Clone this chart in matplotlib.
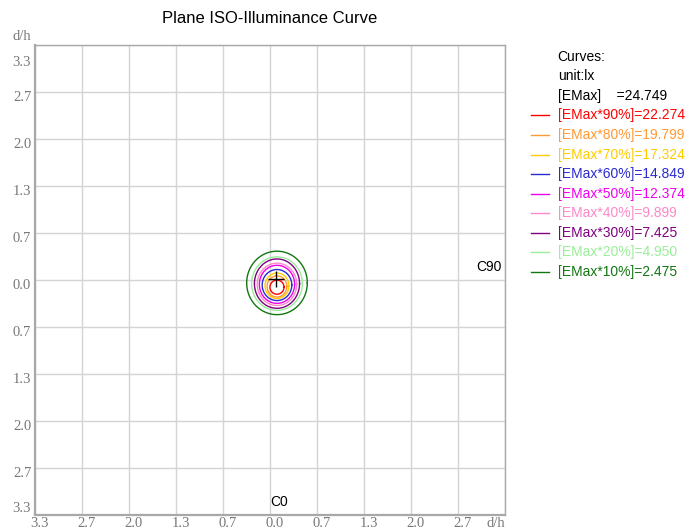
import numpy as np
import matplotlib
matplotlib.use("Agg")
import matplotlib.pyplot as plt
import matplotlib.transforms as mtransforms

# tick values (d/h), grid every 2/3
tick_vals = [-3.333, -2.667, -2.0, -1.333, -0.667, 0.0, 0.667, 1.333, 2.0, 2.667, 3.333]
tick_text = ["3.3", "2.7", "2.0", "1.3", "0.7", "0.0", "0.7", "1.3", "2.0", "2.7", "3.3"]

emax = 24.749
pcts = [90, 80, 70, 60, 50, 40, 30, 20, 10]
level_vals = [22.274, 19.799, 17.324, 14.849, 12.374, 9.899, 7.425, 4.950, 2.475]
level_colors = ["#ff0000", "#ff9933", "#ffcc00", "#2a2ad0", "#ee00ee",
                "#ff88c8", "#800080", "#99ee99", "#117711"]
# iso-lux curve sizes (d/h)
radius_x = [0.10, 0.14, 0.17, 0.21, 0.25, 0.28, 0.32, 0.36, 0.43]
radius_y = [0.10, 0.15, 0.18, 0.22, 0.27, 0.30, 0.35, 0.38, 0.45]
center_x = [0.10, 0.10, 0.10, 0.10, 0.10, 0.10, 0.10, 0.10, 0.10]
center_y = [-0.10, -0.09, -0.08, -0.07, -0.06, -0.06, -0.05, -0.05, -0.04]
lamp_pos = (0.08, 0.02)

fig = plt.figure(figsize=(6.86, 5.31), dpi=100)
ax = fig.add_axes([0.051, 0.030, 0.685, 0.885])
lim = 3.333
ax.set_xlim(-lim, lim)
ax.set_ylim(-lim, lim)
ax.set_xticks(tick_vals)
ax.set_yticks(tick_vals)
ax.grid(True, color="#d4d4d4", lw=1.0)
ax.tick_params(length=0, labelleft=False, labelbottom=False)
for s in ax.spines.values():
    s.set_color("#a8a8a8")
    s.set_linewidth(1.0)
ax.spines["left"].set_linewidth(1.6)
ax.spines["bottom"].set_linewidth(1.6)

tfont = dict(family="Liberation Serif", size=10.5, color="#777777")
bx = mtransforms.blended_transform_factory(ax.transData, ax.transAxes)
by = mtransforms.blended_transform_factory(ax.transAxes, ax.transData)
for v, t in zip(tick_vals[:-1], tick_text[:-1]):
    ax.text(v + 0.07, -0.018, t, transform=bx, ha="center", va="center", **tfont)
for v, t in zip(tick_vals, tick_text):
    yy = min(max(v - 0.07, -lim + 0.1), lim - 0.24)
    ax.text(-0.008, yy, t, transform=by, ha="right", va="center", **tfont)
ax.text(-0.047, 1.005, "d/h", transform=ax.transAxes, ha="left", va="bottom", **tfont)
ax.text(0.98, -0.018, "d/h", transform=ax.transAxes, ha="center", va="center", **tfont)

lfont = dict(family="Liberation Sans", size=10)
ax.text(0.0, -lim + 0.08, "C0", ha="left", va="bottom", **lfont)
ax.text(lim - 0.04, 0.08, "C90", ha="right", va="bottom", **lfont)

th = np.linspace(0, 2 * np.pi, 120)
for i in range(len(pcts))[::-1]:
    ax.plot(center_x[i] + radius_x[i] * np.cos(th), center_y[i] + radius_y[i] * np.sin(th),
            color=level_colors[i], lw=1.0)
ax.plot(*lamp_pos, marker="+", color="black", ms=12, mew=1.0)

fig.text(0.393, 0.966, "Plane ISO-Illuminance Curve", ha="center", va="center",
         family="Liberation Sans", size=12)

x0, y0, dy = 0.813, 0.893, 0.0368
fig.text(x0, y0, "Curves:", va="center", **lfont)
fig.text(x0, y0 - dy, "unit:lx", va="center", **lfont)
fig.text(x0, y0 - 2 * dy, "[EMax]    =%.3f" % emax, va="center", **lfont)
for i, (p, v, c) in enumerate(zip(pcts, level_vals, level_colors)):
    yy = y0 - (3 + i) * dy
    fig.add_artist(plt.Line2D([0.774, 0.800], [yy, yy], color=c, lw=1.0))
    fig.text(x0, yy, "[EMax*%d%%]=%.3f" % (p, v), va="center", color=c, **lfont)

fig.savefig("out.png", dpi=100)
